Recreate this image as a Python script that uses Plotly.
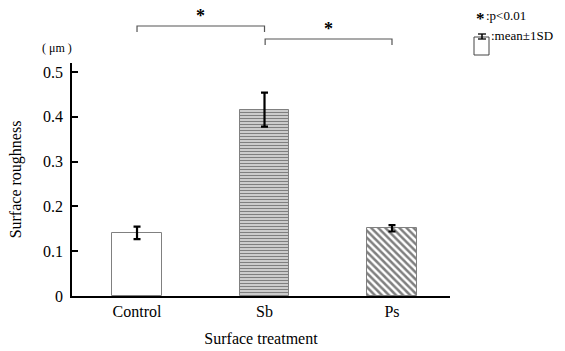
import plotly.graph_objects as go

categories = ["Control", "Sb", "Ps"]
means = [0.141, 0.416, 0.151]
sds = [0.014, 0.038, 0.007]
patterns = ["", "-", "\\"]
y_ticks = [0, 0.1, 0.2, 0.3, 0.4, 0.5]
y_tick_labels = ["0", "0.1", "0.2", "0.3", "0.4", "0.5"]

FONT = "Liberation Serif, Times New Roman, serif"
W, H = 565, 351
L, R, T, B = 72, 115, 63, 55

fig = go.Figure()
fig.add_trace(go.Bar(
    x=[0, 1, 2], y=means, width=0.39,
    marker=dict(color="white", line=dict(color="#808080", width=1),
                pattern=dict(shape=patterns, fgcolor="black", bgcolor="white",
                             size=[4, 3, 5], solidity=[0.3, 0.6, 0.5])),
    error_y=dict(type="data", array=sds, color="black", thickness=2.2, width=3.5),
    showlegend=False,
))

def py_(py):
    return (H - B - py) / (H - B - T)

def px_(px):
    return (px - L) / (W - L - R)

shapes = []
# significance brackets (x in data coordinates)
for x0, x1, py in [(0, 1, 26), (1.005, 2, 39)]:
    ytop = py_(py)
    ybot = py_(py + 6)
    shapes.append(dict(type="path", xref="x", yref="paper",
                       path=f"M {x0},{ybot} L {x0},{ytop} L {x1},{ytop} L {x1},{ybot}",
                       line=dict(color="#555555", width=1.2)))

# legend icon: small box with error bar
shapes.append(dict(type="rect", xref="paper", yref="paper", x0=px_(474), x1=px_(489),
                   y0=py_(55), y1=py_(37), line=dict(color="#444444", width=1)))
cx = px_(482)
shapes.append(dict(type="line", xref="paper", yref="paper", x0=cx, x1=cx,
                   y0=py_(34), y1=py_(39), line=dict(color="black", width=1.5)))
for py in (34, 39):
    shapes.append(dict(type="line", xref="paper", yref="paper", x0=px_(478),
                       x1=px_(486), y0=py_(py), y1=py_(py),
                       line=dict(color="black", width=1.3)))

def ann(x, y, text, size, xref="paper", xanchor="center"):
    return dict(x=x, y=y, xref=xref, yref="paper", text=text, showarrow=False,
                xanchor=xanchor, yanchor="middle",
                font=dict(family=FONT, size=size, color="black"))

annotations = [
    ann(0.5, py_(16), "<b>*</b>", 18, xref="x"),
    ann(1.5, py_(29), "<b>*</b>", 18, xref="x"),
    ann(px_(474), py_(19), "<b>*</b>", 17, xanchor="left"),
    ann(px_(484), py_(15), ":p<0.01", 13, xanchor="left"),
    ann(px_(489), py_(35), ":mean±1SD", 13, xanchor="left"),
    ann(px_(57), py_(48), "( μm )", 12),
]

fig.update_layout(
    width=W, height=H,
    margin=dict(l=L, r=R, t=T, b=B, autoexpand=False),
    plot_bgcolor="white", paper_bgcolor="white",
    font=dict(family=FONT, size=16, color="black"),
    shapes=shapes, annotations=annotations,
    bargap=0,
)
fig.update_xaxes(
    range=[-0.51, 2.455], tickvals=[0, 1, 2], ticktext=categories,
    showline=True, linecolor="black", linewidth=1.6, ticks="", showgrid=False,
    zeroline=False, automargin=False,
    title=dict(text="Surface treatment", font=dict(family=FONT, size=16), standoff=14),
    tickfont=dict(family=FONT, size=16),
)
fig.update_yaxes(
    range=[0, 0.52], tickvals=y_ticks, ticktext=y_tick_labels,
    showline=True, linecolor="black", linewidth=1.6, ticks="inside", ticklen=6,
    tickwidth=1.5, tickcolor="black", showgrid=False, zeroline=False, automargin=False,
    ticklabelstandoff=4,
    title=dict(text="Surface roughness", font=dict(family=FONT, size=16), standoff=17),
    tickfont=dict(family=FONT, size=16),
)

fig.write_html("out.html", config={"displayModeBar": False},
               post_script="document.body.style.margin='0';document.body.style.overflow='hidden';")
